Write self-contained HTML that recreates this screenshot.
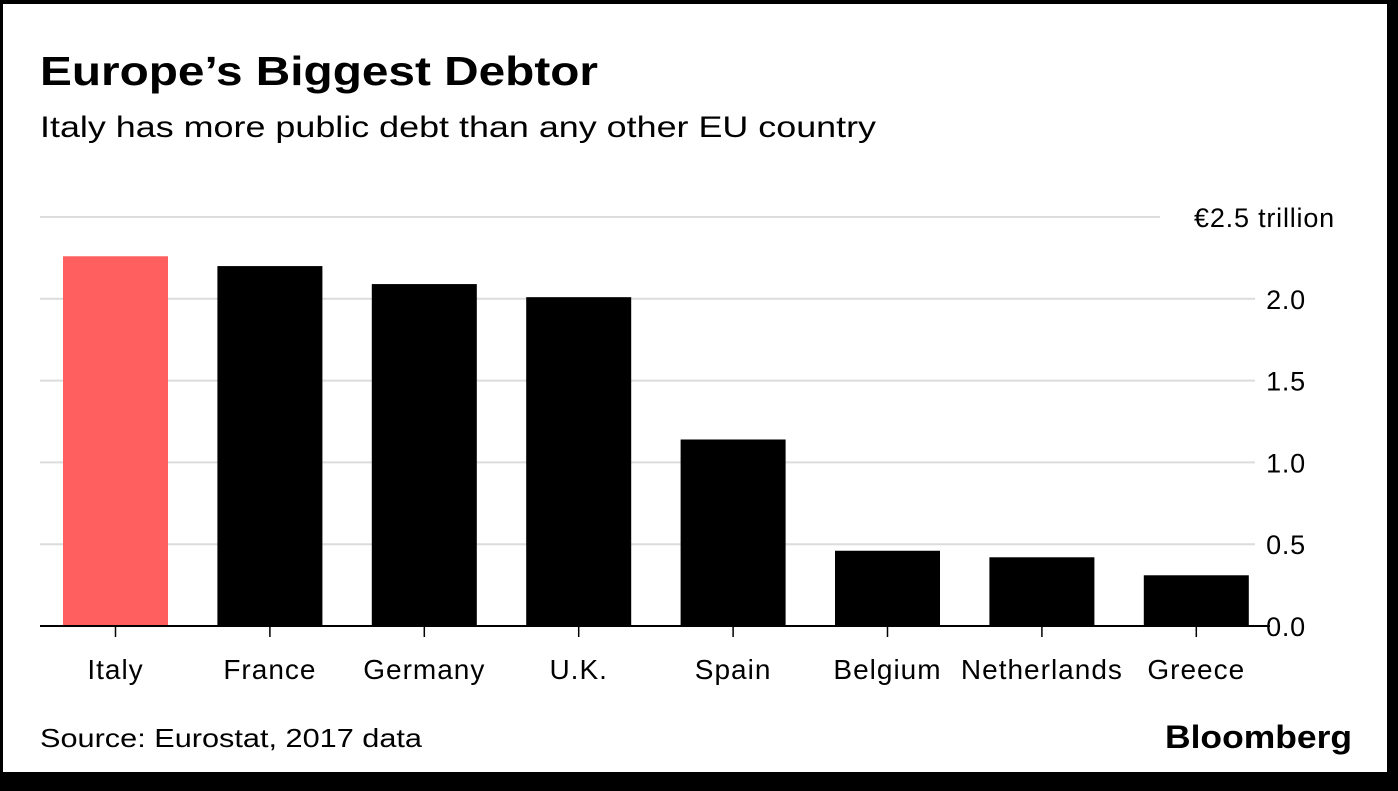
<!DOCTYPE html>
<html><head><meta charset="utf-8"><style>
body{margin:0;background:#000;width:1398px;height:791px;overflow:hidden;font-family:"Liberation Sans",sans-serif}
#card{position:absolute;left:3px;top:4px;width:1384px;height:768px;background:#fff}
</style></head><body>
<div id="card"></div>
<svg width="1398" height="791" style="position:absolute;left:0;top:0">
<text x="40" y="85" font-size="41" font-weight="bold" fill="#000" textLength="558" lengthAdjust="spacingAndGlyphs">Europe’s Biggest Debtor</text>
<text x="40" y="137" font-size="30" fill="#000" textLength="836" lengthAdjust="spacingAndGlyphs">Italy has more public debt than any other EU country</text>
<g id="grid"></g><g id="bars"></g><g id="xaxis"></g>
<text x="40" y="747" font-size="26" fill="#000" textLength="382" lengthAdjust="spacingAndGlyphs">Source: Eurostat, 2017 data</text>
<text x="1165" y="748" font-size="32" font-weight="bold" fill="#000" textLength="187" lengthAdjust="spacingAndGlyphs">Bloomberg</text>
</svg>
<script>
const categories=["Italy","France","Germany","U.K.","Spain","Belgium","Netherlands","Greece"];
const values=[2.26,2.2,2.09,2.01,1.14,0.46,0.42,0.31];
const ticks=[0,0.5,1.0,1.5,2.0,2.5];
const tickLabels=["0.0","0.5","1.0","1.5","2.0","€2.5 trillion"];
const NS="http://www.w3.org/2000/svg";
const y=v=>626-v*163.6;
const x=i=>115.5+i*154.4;
function mk(t,a,p){const e=document.createElementNS(NS,t);for(const k in a)e.setAttribute(k,a[k]);p.appendChild(e);return e;}
const g=document.getElementById('grid'),b=document.getElementById('bars'),xa=document.getElementById('xaxis');
ticks.forEach((t,i)=>{
 const last=i===ticks.length-1;
 if(t>0){const l=mk('line',{x1:40,x2:last?1160:1255,y1:y(t),y2:y(t),stroke:'#dcdcdc','stroke-width':2},g);
 
 }
 const tx=mk('text',{x:last?1335:1306,y:y(t)+10,'font-size':27,'letter-spacing':'0.8','text-anchor':'end',fill:'#000'},g);
 tx.textContent=tickLabels[i];
 
 
});
categories.forEach((c,i)=>{
 const r=mk('rect',{x:x(i)-52.5,y:y(values[i]),width:105,height:626-y(values[i]),fill:i===0?'#ff5f5f':'#000'},b);
 
 
 const tk=mk('line',{x1:x(i),x2:x(i),y1:626,y2:637,stroke:'#000','stroke-width':1.5},xa);
 
 
 const t=mk('text',{x:x(i),y:679,'font-size':28,'letter-spacing':'1','text-anchor':'middle',fill:'#000'},xa);
 t.textContent=c;
 
 
});
const ax=mk('line',{x1:40,x2:1270,y1:626,y2:626,stroke:'#000','stroke-width':2},xa);


</script>
</body></html>
